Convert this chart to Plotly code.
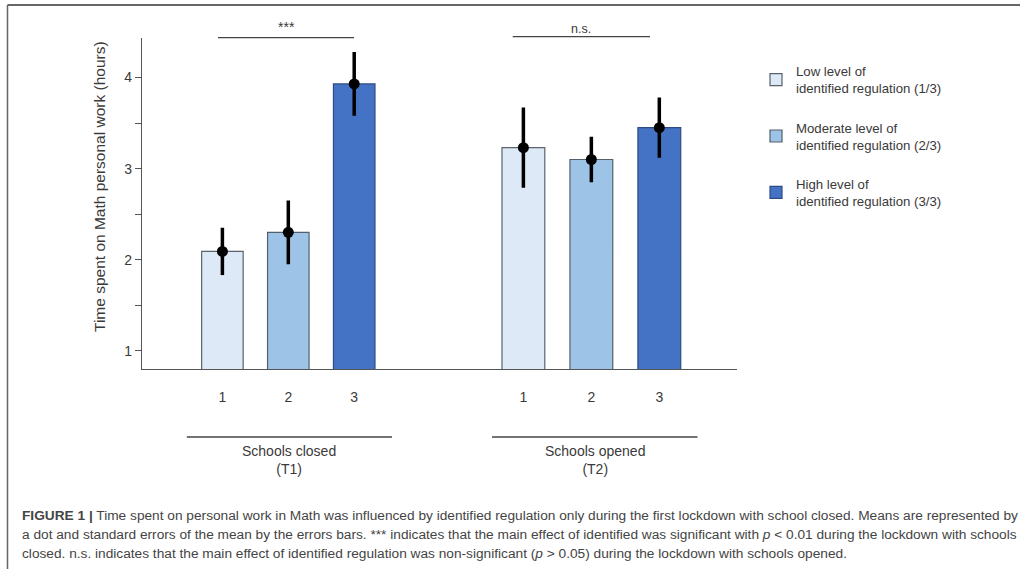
import plotly.graph_objects as go

# ---------------- data ----------------
levels = ["1", "2", "3"]
level_names = [
    "Low level of<br>identified regulation (1/3)",
    "Moderate level of<br>identified regulation (2/3)",
    "High level of<br>identified regulation (3/3)",
]
periods = ["Schools closed<br>(T1)", "Schools opened<br>(T2)"]
closed_means = [2.09, 2.30, 3.93]
closed_se = [0.26, 0.35, 0.35]
opened_means = [3.23, 3.10, 3.45]
opened_se = [0.44, 0.25, 0.33]
sig_labels = ["***", "n.s."]
y_tickvals = [1, 1.5, 2, 2.5, 3, 3.5, 4]
y_ticktext = ["1", "", "2", "", "3", "", "4"]
y_title = "Time spent on Math personal work (hours)"
caption_lines = [
    "<b>FIGURE 1 |</b> Time spent on personal work in Math was influenced by identified regulation only during the first lockdown with school closed. Means are represented by",
    "a dot and standard errors of the mean by the errors bars. *** indicates that the main effect of identified was significant with <i>p</i> &lt; 0.01 during the lockdown with schools",
    "closed. n.s. indicates that the main effect of identified regulation was non-significant (<i>p</i> &gt; 0.05) during the lockdown with schools opened.",
]

# ---------------- style ----------------
bar_colors = ["#dde9f6", "#9dc3e6", "#4472c4"]
edge_colors = ["#59626d", "#52606e", "#2d4b82"]
FONT = "Liberation Sans, Arial, sans-serif"
TXT = "#3a3a3a"
AX = "#555555"
W, H = 1020, 569

fig = go.Figure()

groups = [("x", closed_means, closed_se), ("x2", opened_means, opened_se)]
for gi, (xa, means, ses) in enumerate(groups):
    for li, lev in enumerate(levels):
        fig.add_trace(go.Bar(
            x=[lev], y=[means[li]], xaxis=xa, yaxis="y",
            name=level_names[li], legendgroup=level_names[li],
            showlegend=(gi == 0),
            marker=dict(color=bar_colors[li], line=dict(color=edge_colors[li], width=1.2)),
            hoverinfo="skip",
        ))
    fig.add_trace(go.Scatter(
        x=levels, y=means, xaxis=xa, yaxis="y", mode="markers",
        marker=dict(color="black", size=11),
        error_y=dict(type="data", array=ses, color="black", thickness=3.5, width=0),
        showlegend=False, hoverinfo="skip", cliponaxis=False,
    ))

def px_x(v):
    return v / W

def px_y(v):
    return 1 - v / H

xcommon = dict(
    type="category", categoryorder="array", categoryarray=levels,
    showline=True, linecolor=AX, linewidth=1.3, ticks="", showgrid=False,
    zeroline=False, tickfont=dict(family=FONT, size=14, color=TXT),
    ticklabelstandoff=15, fixedrange=True,
)

fig.update_layout(
    width=W, height=H,
    margin=dict(l=0, r=0, t=0, b=0),
    paper_bgcolor="white", plot_bgcolor="white",
    barmode="overlay", bargap=0.37,
    font=dict(family=FONT, color=TXT),
    xaxis=dict(domain=[px_x(142), px_x(438.5)], range=[-1.22, 3.279], anchor="y", **xcommon),
    xaxis2=dict(domain=[px_x(438.5), px_x(737)], range=[-1.249, 3.143], anchor="y", **xcommon),
    yaxis=dict(
        domain=[px_y(369), px_y(38)], range=[0.798, 4.435],
        showline=True, linecolor=AX, linewidth=1.3, showgrid=False, zeroline=False,
        tickmode="array", tickvals=y_tickvals, ticktext=y_ticktext,
        ticks="outside", ticklen=6, tickcolor=AX, tickwidth=1.2,
        tickfont=dict(family=FONT, size=14, color=TXT), fixedrange=True,
    ),
    legend=dict(
        x=px_x(756), y=px_y(56), xanchor="left", yanchor="top",
        font=dict(family=FONT, size=13.2, color=TXT),
        traceorder="grouped", tracegroupgap=19, bgcolor="rgba(0,0,0,0)",
    ),
    showlegend=True,
)

shapes = []
annotations = []
# significance brackets
for (x0, x1, yl), lab, ty, fs in zip([(218, 354, 37.7), (512.7, 650, 36.7)], sig_labels, [27, 29], [14, 12.5]):
    shapes.append(dict(type="line", xref="paper", yref="paper", x0=px_x(x0), x1=px_x(x1),
                       y0=px_y(yl), y1=px_y(yl), line=dict(color="#444", width=1.3)))
    annotations.append(dict(text=lab, xref="paper", yref="paper", x=px_x((x0 + x1) / 2), y=px_y(ty),
                            showarrow=False, font=dict(family=FONT, size=fs, color=TXT),
                            xanchor="center", yanchor="middle"))
# period labels with lines
for (x0, x1), lab in zip([(186.8, 392), (492, 697.5)], periods):
    shapes.append(dict(type="line", xref="paper", yref="paper", x0=px_x(x0), x1=px_x(x1),
                       y0=px_y(437), y1=px_y(437), line=dict(color="#444", width=1.3)))
    annotations.append(dict(text=lab, xref="paper", yref="paper", x=px_x((x0 + x1) / 2), y=px_y(460),
                            showarrow=False, font=dict(family=FONT, size=14, color=TXT),
                            xanchor="center", yanchor="middle"))
# y-axis title
annotations.append(dict(text=y_title, xref="paper", yref="paper", x=px_x(100), y=px_y(187),
                        textangle=-90, showarrow=False, font=dict(family=FONT, size=15.5, color=TXT),
                        xanchor="center", yanchor="middle"))
# caption
for yy, line in zip([515, 534, 553], caption_lines):
    annotations.append(dict(text=line, xref="paper", yref="paper", x=px_x(20), y=px_y(yy),
                            showarrow=False, font=dict(family=FONT, size=13.7, color="#444"),
                            xanchor="left", yanchor="middle", align="left"))
# frame
shapes.append(dict(type="line", xref="paper", yref="paper", x0=px_x(7.5), x1=1,
                   y0=px_y(5), y1=px_y(5), line=dict(color="#333", width=1.5)))
shapes.append(dict(type="line", xref="paper", yref="paper", x0=px_x(7.5), x1=px_x(7.5),
                   y0=px_y(5), y1=0, line=dict(color="#666", width=1.5)))

fig.update_layout(shapes=shapes, annotations=annotations)
fig.write_html("out.html", config={"displayModeBar": False},
               post_script="document.body.style.margin='0';")
